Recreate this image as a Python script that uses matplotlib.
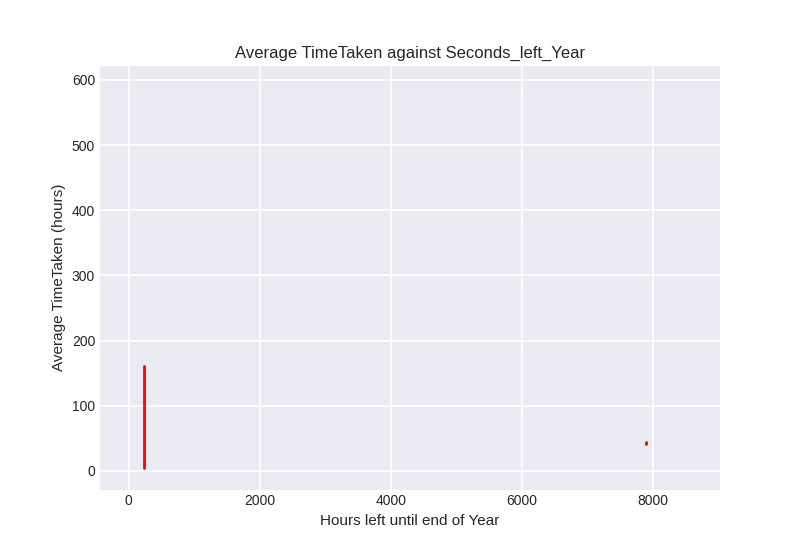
import matplotlib
matplotlib.use("Agg")
import matplotlib.pyplot as plt
import numpy as np

# hours left until end of year vs average time taken (hours)
hours_left = [238, 238, np.nan, 7888, 7888]
avg_time_taken = [5, 161, np.nan, 41, 44.5]

plt.style.use("seaborn-v0_8-darkgrid")
plt.rcParams["font.family"] = ["Liberation Sans", "DejaVu Sans"]
plt.rcParams["grid.linewidth"] = 1.2

fig, ax = plt.subplots(figsize=(8, 5.5), dpi=100)
ax.plot(hours_left, avg_time_taken, color="red", linewidth=2)

ax.set_xlim(-438, 9016)
ax.set_ylim(-28.7, 621.4)
ax.set_xticks([0, 2000, 4000, 6000, 8000])
ax.set_yticks([0, 100, 200, 300, 400, 500, 600])

ax.set_title("Average TimeTaken against Seconds_left_Year", fontsize=12)
ax.set_xlabel("Hours left until end of Year", fontsize=11)
ax.set_ylabel("Average TimeTaken (hours)", fontsize=11)
ax.tick_params(labelsize=10)

fig.savefig("out.png", dpi=100)
